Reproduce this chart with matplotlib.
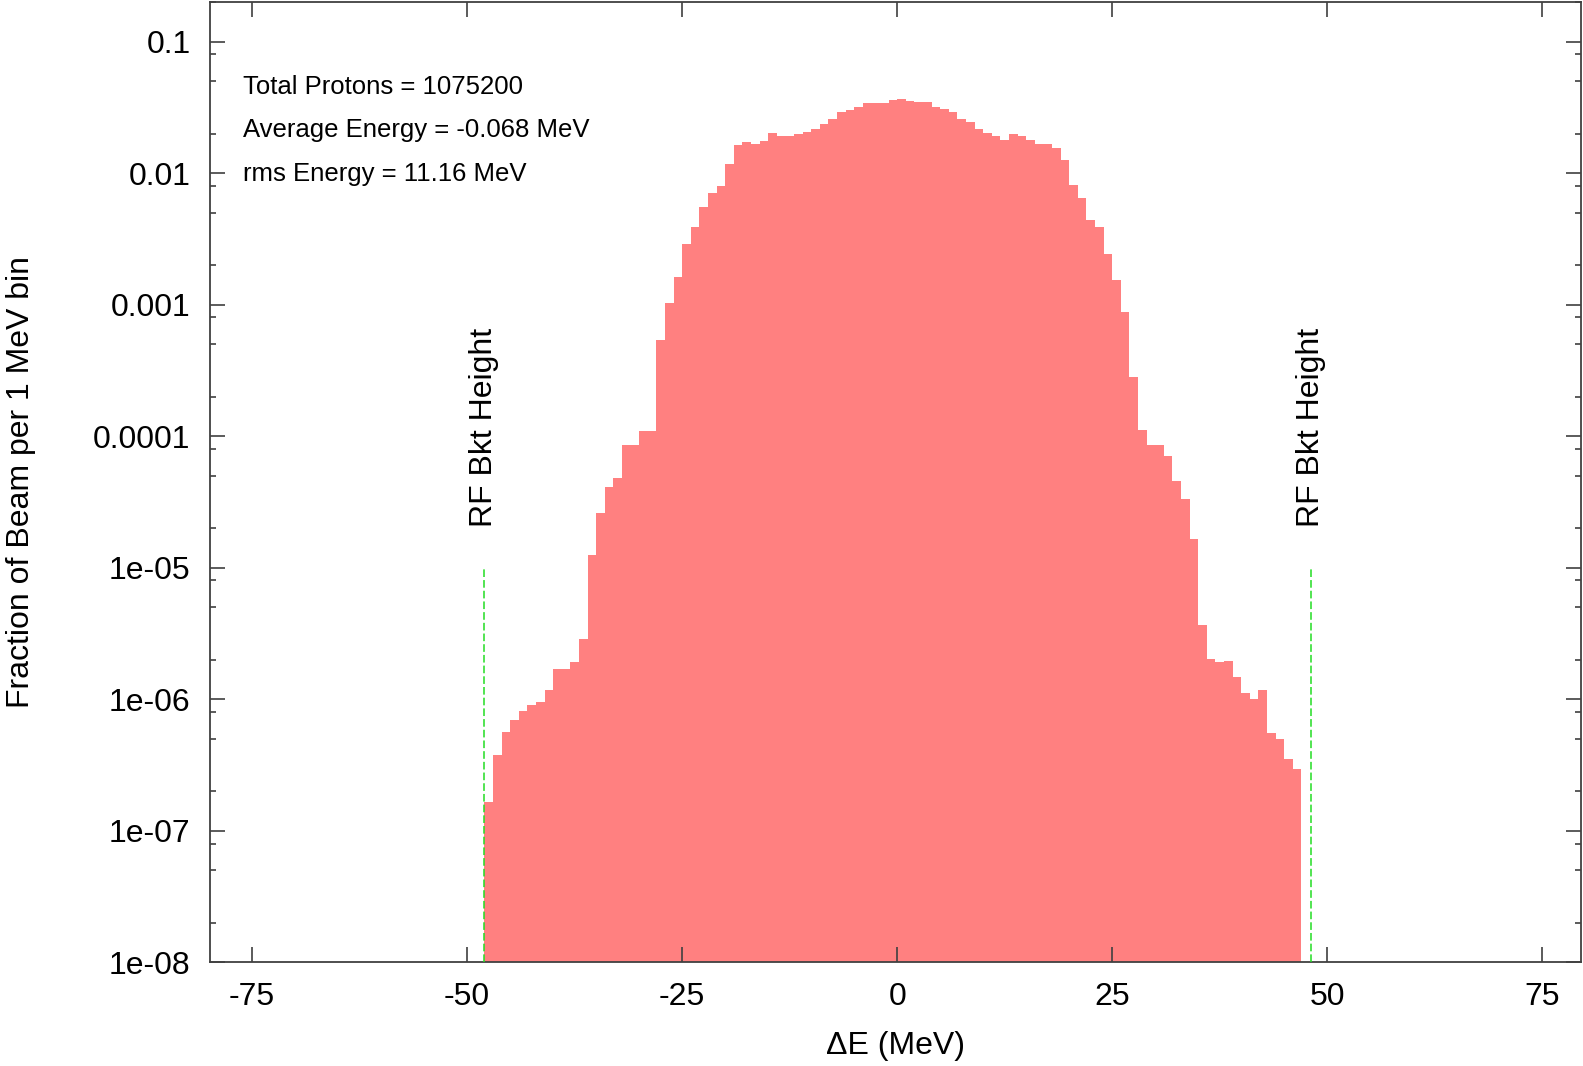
import numpy as np
import matplotlib
matplotlib.use("Agg")
import matplotlib.pyplot as plt
from matplotlib.ticker import FixedLocator, NullFormatter

plt.rcParams['font.family'] = ['Liberation Sans', 'DejaVu Sans']
plt.rcParams['axes.unicode_minus'] = False

# ---------------------------------------------------------------------------
# data: fraction of beam per 1 MeV bin, first bin starts at -48 MeV
# ---------------------------------------------------------------------------
frac = [
    1.66e-7, 3.79e-7, 5.6e-7, 7.0e-7, 8.1e-7, 9.1e-7, 9.6e-7, 1.18e-6,
    1.71e-6, 1.71e-6, 1.92e-6, 2.85e-6, 1.24e-5, 2.59e-5, 4.08e-5, 4.82e-5,
    8.5e-5, 8.5e-5, 1.09e-4, 1.09e-4, 5.37e-4, 1.03e-3, 1.62e-3, 2.87e-3,
    3.9e-3, 5.48e-3, 7.08e-3, 7.96e-3, 1.18e-2, 1.65e-2, 1.71e-2, 1.67e-2,
    1.77e-2, 2.02e-2, 1.92e-2, 1.92e-2, 1.98e-2, 2.04e-2, 2.15e-2, 2.38e-2,
    2.60e-2, 2.92e-2, 3.01e-2, 3.19e-2, 3.44e-2, 3.44e-2, 3.44e-2, 3.57e-2,
    3.67e-2, 3.55e-2, 3.47e-2, 3.46e-2, 3.19e-2, 3.08e-2, 2.92e-2, 2.60e-2,
    2.45e-2, 2.18e-2, 2.02e-2, 1.92e-2, 1.80e-2, 1.97e-2, 1.91e-2, 1.80e-2,
    1.66e-2, 1.66e-2, 1.56e-2, 1.25e-2, 8.14e-3, 6.49e-3, 4.37e-3, 3.90e-3,
    2.42e-3, 1.54e-3, 8.73e-4, 2.81e-4, 1.11e-4, 8.5e-5, 8.5e-5, 7.1e-5,
    4.55e-5, 3.34e-5, 1.64e-5, 3.66e-6, 2.01e-6, 1.92e-6, 1.96e-6, 1.48e-6,
    1.11e-6, 9.97e-7, 1.17e-6, 5.5e-7, 5.0e-7, 3.49e-7, 2.93e-7,
]
bin_lo = -48.0
bin_w = 1.0

rf_bkt = 48.1          # RF bucket half height (MeV)
rf_line_top = 1e-5
rf_text_y = 2.05e-5

stats = [
    'Total Protons = 1075200',
    'Average Energy = -0.068 MeV',
    'rms Energy = 11.16 MeV',
]

xticks = [-75, -50, -25, 0, 25, 50, 75]
yticks = [0.1, 0.01, 0.001, 0.0001, 1e-05, 1e-06, 1e-07, 1e-08]
ytick_labels = ['0.1', '0.01', '0.001', '0.0001', '1e-05', '1e-06', '1e-07', '1e-08']
xlim = (-79.9, 79.5)
ylim = (1e-8, 0.2)

AX_COL = '#404040'
FILL = '#ff8080'
GREEN = '#22dd22'
FS = 23

# ---------------------------------------------------------------------------
W, H = 1583, 1066
fig = plt.figure(figsize=(W / 100, H / 100), dpi=100)
ax = fig.add_axes([210 / W, 1 - 962.3 / H, (1581 - 210) / W, (962.3 - 2) / H])
ax.set_yscale('log')

edges = bin_lo + bin_w * np.arange(len(frac) + 1)
ax.stairs(frac, edges, fill=True, color=FILL, baseline=1e-9, lw=0, zorder=1)

ax.vlines([-rf_bkt, rf_bkt], ylim[0], rf_line_top, colors=GREEN,
          linestyles=(0, (5, 2)), lw=1.1, zorder=3)
for x in (-rf_bkt, rf_bkt):
    ax.text(x, rf_text_y, 'RF Bkt Height', rotation=90, ha='center',
            va='bottom', fontsize=FS)

for i, s in enumerate(stats):
    ax.text(0.024, 0.9115 - i * 0.0453, s, transform=ax.transAxes,
            ha='left', va='center', fontsize=18.5)

ax.set_xlim(xlim)
ax.set_ylim(ylim)
ax.set_xticks(xticks)
ax.set_xticklabels([str(t) for t in xticks])
ax.yaxis.set_major_locator(FixedLocator(yticks))
ax.set_yticklabels(ytick_labels)
minor = [m * 10.0 ** e for e in range(-8, 0) for m in (2, 5, 8)]
ax.yaxis.set_minor_locator(FixedLocator(minor))
ax.yaxis.set_minor_formatter(NullFormatter())
ax.xaxis.set_minor_locator(FixedLocator([]))

ax.tick_params(which='both', direction='in', top=True, right=True,
               color=AX_COL, width=1.2, labelsize=FS)
ax.tick_params(which='major', length=10.8)
ax.tick_params(which='minor', length=4.3)
ax.tick_params(axis='x', pad=14.5)
ax.tick_params(axis='y', pad=14)

for sp in ax.spines.values():
    sp.set_edgecolor(AX_COL)
    sp.set_linewidth(1.3)

ax.set_xlabel('\u0394E (MeV)', fontsize=FS)
ax.set_ylabel('Fraction of Beam per 1 MeV bin', fontsize=FS)
ax.xaxis.set_label_coords(0.5, -0.072)
ax.yaxis.set_label_coords(-0.127, 0.5)

fig.savefig('out.png', dpi=100)
